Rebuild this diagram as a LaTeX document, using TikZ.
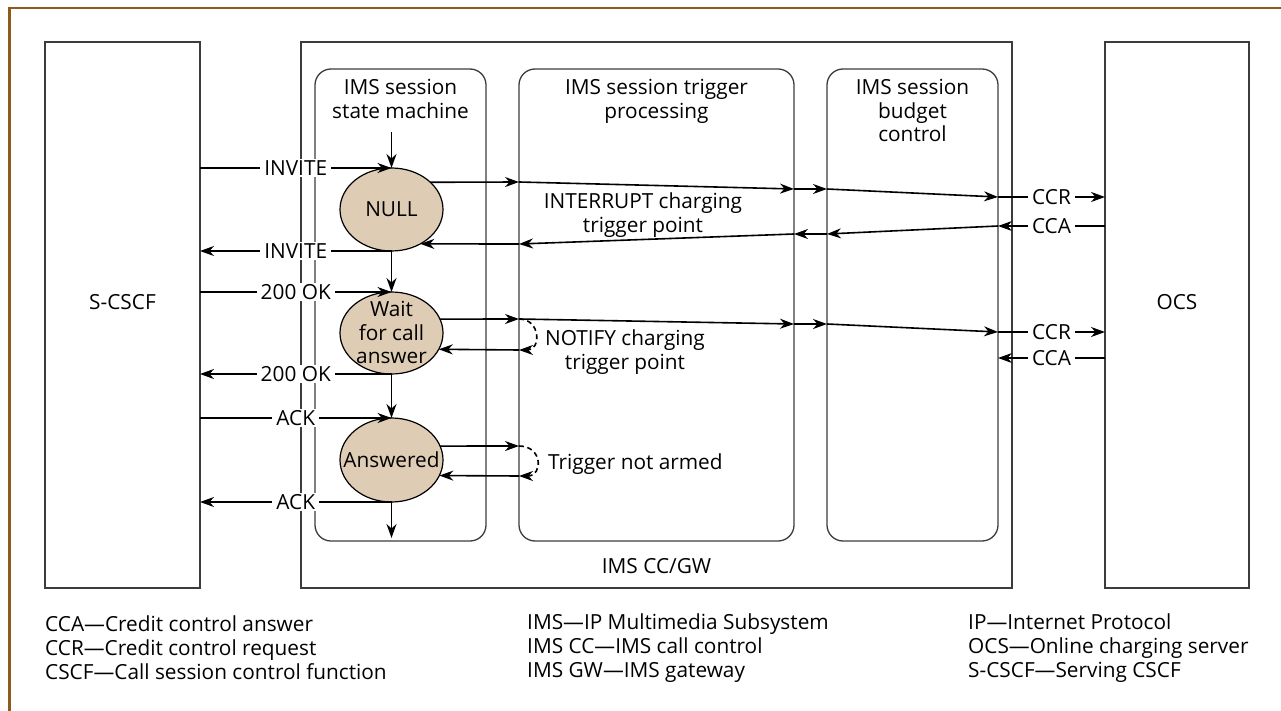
\documentclass[tikz,border=0pt]{standalone}
\usepackage{fontspec}
\setmainfont{Open Sans}
\usetikzlibrary{shapes.geometric, arrows.meta}

\definecolor{brownframe}{RGB}{140,90,25}
\definecolor{boxgray}{RGB}{60,60,60}
\definecolor{statefill}{RGB}{223,204,180}

\tikzset{
  brframe/.style={draw=brownframe, line width=2.6pt},
  box/.style={draw=boxgray, line width=1.3pt, inner sep=0pt, outer sep=0pt},
  lane/.style={box, rounded corners=16pt},
  stnode/.style={ellipse, draw=black, line width=1.2pt, fill=statefill,
                 inner sep=0pt, outer sep=0pt, minimum width=103pt},
  msg/.style={line width=1.6pt, -{Stealth[length=14pt, width=10pt, inset=4.5pt]}},
  dashloop/.style={msg, dash pattern=on 5pt off 3.5pt},
  lbl/.style={fill=white, inner xsep=4pt, inner ysep=1.5pt},
  txt/.style={inner sep=0pt, font=\fontsize{20.8}{23.5}\selectfont},
  legend/.style={anchor=west, align=left, inner sep=0pt,
                 font=\fontsize{20.8}{24}\selectfont}
}

\begin{document}
\begin{tikzpicture}[x=1pt, y=-1pt, every node/.append style={font=\fontsize{20.8}{23.5}\selectfont}]
\useasboundingbox (0,0) rectangle (1281,711);
\fill[white] (0,0) rectangle (1281,711);

% page frame (top and left edges)
\coordinate (fa) at (9.5,711);
\coordinate (fb) at (9.5,8);
\coordinate (fc) at (1281,8);
\draw[brframe] (fa) -- (fb) -- (fc);

% main blocks
\node[box, minimum width=155pt, minimum height=546pt] (scscf) at (122.5,315) {};
\node[box, minimum width=711pt, minimum height=546pt] (imscc) at (656.5,315) {};
\node[box, minimum width=144pt, minimum height=546pt] (ocs) at (1177,315) {};
\node[txt] (scscflbl) at (122.5,302) {S-CSCF};
\node[txt] (ocslbl) at (1177,302) {OCS};
\node[txt] (ccgwlbl) at (656.5,566) {IMS CC/GW};

% functional lanes inside IMS CC/GW
\node[lane, minimum width=171pt, minimum height=472pt] (sm) at (400.5,305) {};
\node[lane, minimum width=275pt, minimum height=472pt] (tp) at (656.5,305) {};
\node[lane, minimum width=171pt, minimum height=472pt] (bc) at (912.5,305) {};
\node[txt, anchor=north, align=center] (smtitle) at (400.5,79.5) {IMS session\\state machine};
\node[txt, anchor=north, align=center] (tptitle) at (656.5,79.5) {IMS session trigger\\processing};
\node[txt, anchor=north, align=center] (bctitle) at (912.5,79.5) {IMS session\\budget\\control};

% session states
\node[stnode, minimum height=83pt] (null) at (391.5,209.5) {};
\node[stnode, minimum height=82pt] (wait) at (391.5,333) {};
\node[stnode, minimum height=84pt] (ans) at (391.5,460) {};
\node[txt] (nulltxt) at (null) {NULL};
\node[txt, align=center] (waittxt) at (391.5,332.5) {Wait\\for call\\answer};
\node[txt] (anstxt) at (ans) {Answered};

% state machine transitions and SIP messages
\coordinate (smin) at (391.5,132);
\coordinate (smout) at (391.5,538);
\draw[msg] (smin) -- (null.north);
\draw[msg] (scscf.east |- null.north) -- node[lbl]{INVITE} (null.north);
\draw[msg] (null.south) -- node[lbl]{INVITE} (scscf.east |- null.south);
\draw[msg] (null.south) -- (wait.north);
\draw[msg] (scscf.east |- wait.north) -- node[lbl]{200 OK} (wait.north);
\draw[msg] (wait.south) -- node[lbl]{200 OK} (scscf.east |- wait.south);
\draw[msg] (wait.south) -- (ans.north);
\draw[msg] (scscf.east |- ans.north) -- node[lbl]{ACK} (ans.north);
\draw[msg] (ans.south) -- node[lbl]{ACK} (scscf.east |- ans.south);
\draw[msg] (ans.south) -- (smout);

% INTERRUPT charging trigger point: CCR out, CCA back
\coordinate (r1a) at (519,182);
\coordinate (r1b) at (794,189);
\coordinate (r1c) at (827,189);
\coordinate (r1d) at (998,197);
\coordinate (r1e) at (1105,197);
\draw[msg] (null.35.5) -- (r1a);
\draw[msg] (r1a) -- (r1b);
\draw[msg] (r1b) -- (r1c);
\draw[msg] (r1c) -- (r1d);
\draw[msg] (r1d) -- node[lbl]{CCR} (r1e);

\coordinate (r2a) at (1105,226);
\coordinate (r2b) at (998,226);
\coordinate (r2c) at (827,234);
\coordinate (r2d) at (794,234);
\coordinate (r2e) at (519,244);
\draw[msg] (r2a) -- node[lbl]{CCA} (r2b);
\draw[msg] (r2b) -- (r2c);
\draw[msg] (r2c) -- (r2d);
\draw[msg] (r2d) -- (r2e);
\draw[msg] (r2e) -- (null.-50.3);
\node[txt, align=center] (intlbl) at (643,215) {INTERRUPT charging\\trigger point};

% NOTIFY charging trigger point
\coordinate (n1a) at (519,319);
\coordinate (n1b) at (794,324);
\coordinate (n1c) at (827,324);
\coordinate (n1d) at (998,332);
\coordinate (n1e) at (1105,332);
\draw[msg] (wait.16.1) -- (n1a);
\draw[msg] (n1a) -- (n1b);
\draw[msg] (n1b) -- (n1c);
\draw[msg] (n1c) -- (n1d);
\draw[msg] (n1d) -- node[lbl]{CCR} (n1e);
\coordinate (n2a) at (1105,358);
\coordinate (n2b) at (998,358);
\draw[msg] (n2a) -- node[lbl]{CCA} (n2b);
\coordinate (n3a) at (519,350);
\draw[dashloop] (n1a) .. controls (541,319) and (541,350) .. (n3a);
\draw[msg] (n3a) -- (wait.-19.9);
\node[txt, align=center] (notlbl) at (625,352) {NOTIFY charging\\trigger point};

% trigger not armed loop
\coordinate (t1a) at (519,446);
\coordinate (t1b) at (519,476);
\draw[msg] (ans.16) -- (t1a);
\draw[dashloop] (t1a) .. controls (543,446) and (543,476) .. (t1b);
\draw[msg] (t1b) -- (ans.-18.6);
\node[txt, anchor=west] (tnalbl) at (548,464) {Trigger not armed};

% abbreviations
\node[legend] (leg1) at (45,648) {CCA—Credit control answer\\CCR—Credit control request\\CSCF—Call session control function};
\node[legend] (leg2) at (527,648) {IMS—IP Multimedia Subsystem\\IMS CC—IMS call control\\IMS GW—IMS gateway};
\node[legend] (leg3) at (968,648) {IP—Internet Protocol\\OCS—Online charging server\\S-CSCF—Serving CSCF};
\end{tikzpicture}
\end{document}
